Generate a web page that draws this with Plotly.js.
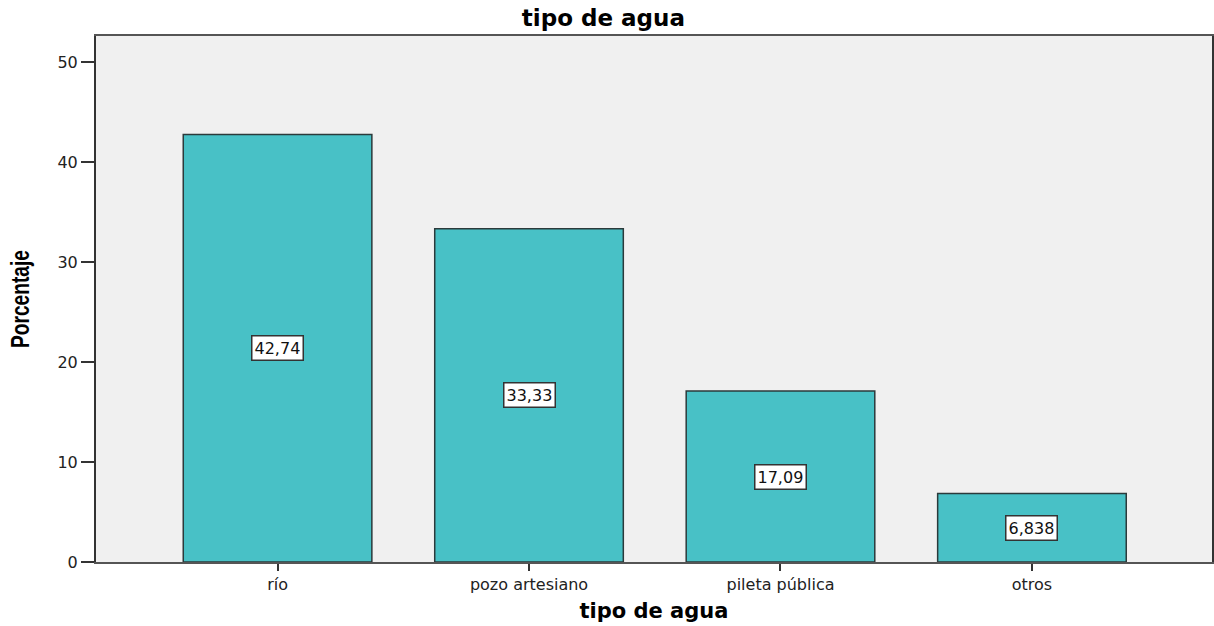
<!DOCTYPE html>
<html>
<head>
<meta charset="utf-8">
<script src="https://cdn.plot.ly/plotly-3.0.1.min.js"></script>
<style>
  html, body { margin: 0; padding: 0; background: #ffffff; }
  #chart { width: 1214px; height: 626px; }
</style>
</head>
<body>
<div id="chart"></div>
<script>
// Water source categories and their percentages
const categories = ['río', 'pozo artesiano', 'pileta pública', 'otros'];
const percentages = [42.74, 33.33, 17.09, 6.838];
const yTicks = [0, 10, 20, 30, 40, 50];

const barColor = '#48C1C6';
const baseFamily = 'DejaVu Sans, Arial, sans-serif';
const tickFont = { family: baseFamily, size: 16, color: '#222' };

const trace = {
  type: 'bar',
  x: categories,
  y: percentages,
  marker: { color: barColor, line: { color: '#2b3a3b', width: 1.5 } },
  hoverinfo: 'x+y'
};

// Value boxes sit at the middle of each bar
const annotations = categories.map((c, i) => ({
  x: c,
  y: percentages[i] / 2,
  xref: 'x',
  yref: 'y',
  text: String(percentages[i]).replace('.', ','),
  showarrow: false,
  font: { family: baseFamily, size: 16, color: '#111' },
  bgcolor: '#ffffff',
  bordercolor: '#333333',
  borderwidth: 1.5,
  borderpad: 2
}));

const layout = {
  width: 1214,
  height: 626,
  margin: { l: 96, r: 2, t: 36, b: 64 },
  paper_bgcolor: '#ffffff',
  plot_bgcolor: '#F0F0F0',
  bargap: 0.25,
  showlegend: false,
  title: {
    text: 'tipo de agua',
    x: 0.497,
    xref: 'container',
    xanchor: 'center',
    y: 0.971,
    yref: 'container',
    yanchor: 'middle',
    font: { family: baseFamily, size: 23, weight: 'bold', color: '#000' }
  },
  xaxis: {
    type: 'category',
    range: [-0.722, 3.716],
    showgrid: false,
    zeroline: false,
    showline: true,
    linecolor: '#555555',
    linewidth: 2,
    mirror: true,
    ticks: 'outside',
    ticklen: 7,
    tickwidth: 2,
    tickcolor: '#333333',
    tickfont: tickFont,
    title: {
      text: 'tipo de agua',
      standoff: 10,
      font: { family: baseFamily, size: 21, weight: 'bold', color: '#000' }
    }
  },
  yaxis: {
    range: [0, 52.6],
    tickvals: yTicks,
    ticktext: yTicks.map(String),
    showgrid: false,
    zeroline: false,
    showline: true,
    linecolor: '#333333',
    linewidth: 2,
    mirror: true,
    ticks: 'outside',
    ticklen: 13,
    tickwidth: 2,
    tickcolor: '#333333',
    tickfont: tickFont,
    title: {
      text: 'Porcentaje',
      standoff: 21,
      font: { family: 'Liberation Sans, Arial, sans-serif', size: 25, weight: 'bold', color: '#000' }
    }
  },
  annotations: annotations
};

Plotly.newPlot('chart', [trace], layout, { displayModeBar: false, staticPlot: true }).then(gd => {
  // Condense the vertical axis title into a narrow bold label
  const yt = gd.querySelector('.ytitle');
  if (yt) {
    yt.setAttribute('textLength', '98');
    yt.setAttribute('lengthAdjust', 'spacingAndGlyphs');
  }
});
</script>
</body>
</html>
